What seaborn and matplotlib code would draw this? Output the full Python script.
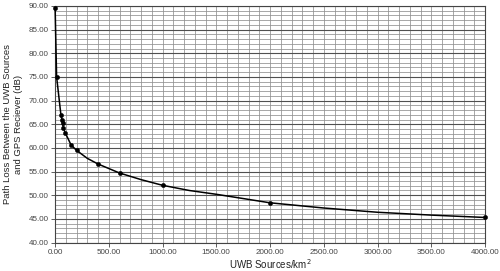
import matplotlib
matplotlib.use("Agg")
import matplotlib.pyplot as plt
import seaborn as sns
import numpy as np
import pandas as pd
from matplotlib.ticker import MultipleLocator, FormatStrFormatter

# marked data points
sources = [1, 15, 55, 65, 70, 77, 95, 150, 200, 400, 600, 1000, 2000, 4000]
path_loss = [89.5, 75.0, 67.0, 66.0, 65.2, 64.3, 63.2, 60.6, 59.5, 56.6, 54.7, 52.1, 48.4, 45.3]
# positions (between markers)
curve_x = [1, 15, 55, 65, 70, 77, 95, 150, 200, 300, 400, 600, 800, 1000, 1250, 1500,
           2000, 2500, 3000, 3500, 4000]
curve_y = [89.5, 75.0, 67.0, 66.0, 65.2, 64.3, 63.2, 60.6, 59.5, 57.8, 56.6, 54.7, 53.3, 52.1,
           51.0, 50.2, 48.4, 47.3, 46.4, 45.8, 45.3]
x_ticks = [0, 500, 1000, 1500, 2000, 2500, 3000, 3500, 4000]
y_ticks = [40, 45, 50, 55, 60, 65, 70, 75, 80, 85, 90]

sns.set_style("white")
plt.rcParams['font.family'] = ['Liberation Sans', 'DejaVu Sans']

df_pts = pd.DataFrame({"x": sources, "y": path_loss})
df_curve = pd.DataFrame({"x": curve_x, "y": curve_y})

fig = plt.figure(figsize=(5.0, 2.71), dpi=100)
ax = fig.add_axes([0.11, 0.105, 0.86, 0.873])

sns.lineplot(data=df_curve, x="x", y="y", ax=ax, color="black", linewidth=1.1,
             clip_on=False, zorder=5)
sns.scatterplot(data=df_pts, x="x", y="y", ax=ax, color="black", s=10, marker="o",
                edgecolor="black", clip_on=False, zorder=6)

ax.set_xlim(0, 4000)
ax.set_ylim(40, 90)
ax.set_xticks(x_ticks)
ax.set_yticks(y_ticks)
ax.xaxis.set_major_formatter(FormatStrFormatter("%.2f"))
ax.yaxis.set_major_formatter(FormatStrFormatter("%.2f"))
ax.xaxis.set_minor_locator(MultipleLocator(100))
ax.yaxis.set_minor_locator(MultipleLocator(1))

ax.grid(which="minor", color="#8f8f8f", linewidth=0.55)
ax.grid(which="major", axis="x", color="#8f8f8f", linewidth=0.55)
ax.grid(which="major", axis="y", color="#505050", linewidth=0.8)
ax.set_axisbelow(True)

ax.tick_params(axis="both", which="major", labelsize=5.8, length=3, width=0.6,
               colors="#444444", direction="out", pad=1.5)
ax.tick_params(axis="both", which="minor", length=0)
ax.tick_params(left=True, bottom=True)

for s in ax.spines.values():
    s.set_color("#444444")
    s.set_linewidth(0.8)

ax.set_xlabel("UWB Sources/km$^2$", fontsize=7, color="#222222", labelpad=1)
ax.set_ylabel("Path Loss Between the UWB Sources\nand GPS Reciever (dB)", fontsize=6.8,
              color="#222222", labelpad=4, linespacing=1.3)

fig.savefig("out.png", dpi=100)
